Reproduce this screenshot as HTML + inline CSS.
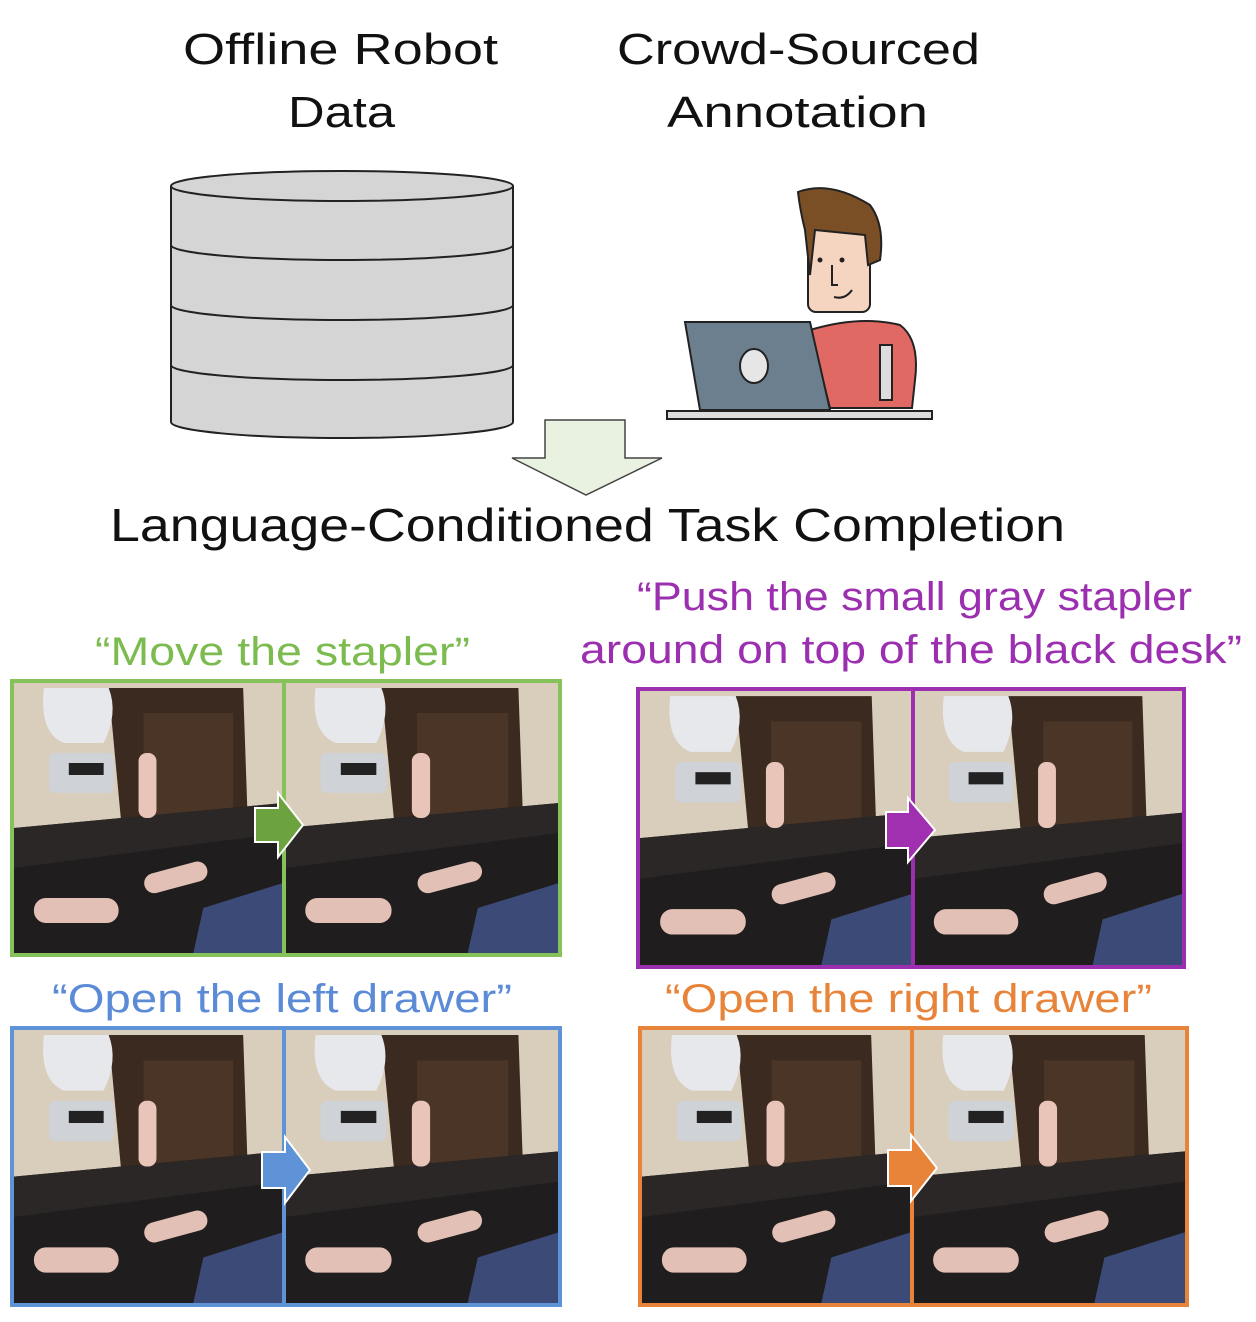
<!DOCTYPE html>
<html><head><meta charset="utf-8"><style>
html,body{margin:0;padding:0;background:#fff;width:1256px;height:1322px;overflow:hidden}
text{font-family:"Liberation Sans",sans-serif}
</style></head><body>
<svg width="1256" height="1322" viewBox="0 0 1256 1322" xmlns="http://www.w3.org/2000/svg">
<defs>
<symbol id="ph" viewBox="0 0 270 270" preserveAspectRatio="none">
<rect width="270" height="270" fill="#d9cdbb"/>
<polygon points="95,5 230,5 235,150 110,165" fill="#3b2a1f"/>
<rect x="130" y="30" width="90" height="110" fill="#4a3526"/>
<polygon points="0,145 270,120 270,270 0,270" fill="#1f1d1d"/>
<polygon points="0,145 270,120 270,150 0,185" fill="#2a2726"/>
<rect x="20" y="215" width="85" height="25" rx="12" fill="#e3c0b5"/>
<rect x="130" y="185" width="65" height="20" rx="10" fill="#e3c0b5" transform="rotate(-15 160 195)"/>
<rect x="125" y="70" width="18" height="65" rx="8" fill="#e8c5b8"/>
<polygon points="190,225 270,200 270,270 180,270" fill="#3c4a78"/>
<path d="M30,5 Q25,50 50,60 L90,60 Q105,30 95,5 Z" fill="#e6e8ec"/>
<rect x="35" y="70" width="65" height="40" rx="6" fill="#cfd3d8"/>
<rect x="55" y="80" width="35" height="12" fill="#222"/>
</symbol>
</defs>
<g lengthAdjust="spacingAndGlyphs">
<text x="183" y="64" font-size="44" textLength="315" lengthAdjust="spacingAndGlyphs" fill="#111">Offline Robot</text>
<text x="288" y="127" font-size="44" textLength="107" lengthAdjust="spacingAndGlyphs" fill="#111">Data</text>
<text x="617" y="64" font-size="44" textLength="363" lengthAdjust="spacingAndGlyphs" fill="#111">Crowd-Sourced</text>
<text x="667" y="127" font-size="44" textLength="261" lengthAdjust="spacingAndGlyphs" fill="#111">Annotation</text>
</g>
<!-- cylinder -->
<g stroke="#222" stroke-width="2" fill="#d5d5d5">
<path d="M171,186 L171,422 A171,16 0 0 0 513,422 L513,186"/>
<ellipse cx="342" cy="186" rx="171" ry="15"/>
<path d="M171,245 A171,15 0 0 0 513,245" fill="none"/>
<path d="M171,305 A171,15 0 0 0 513,305" fill="none"/>
<path d="M171,365 A171,15 0 0 0 513,365" fill="none"/>
</g>
<!-- person -->
<g stroke="#222" stroke-width="2">
<path d="M810,330 Q860,315 900,325 Q920,340 915,380 L912,408 L830,408 Z" fill="#e06a63"/>
<rect x="880" y="345" width="12" height="55" fill="#ddd"/>
<rect x="808" y="230" width="62" height="82" rx="8" fill="#f5d5c0"/>
<path d="M798,192 Q830,180 870,205 Q885,225 880,260 L868,265 L865,235 L815,230 L810,275 L805,230 Q800,210 798,192 Z" fill="#7b4f26"/>
<path d="M685,322 L810,322 L830,410 L700,410 Z" fill="#6b7f8e"/>
<ellipse cx="754" cy="366" rx="14" ry="17" fill="#e6e6e6"/>
<rect x="667" y="411" width="265" height="8" fill="#ddd"/>
</g>
<circle cx="820" cy="260" r="2.5" fill="#222"/><circle cx="842" cy="260" r="2.5" fill="#222"/>
<path d="M832,265 L832,285 L838,285 M834,297 Q845,300 852,290" stroke="#222" stroke-width="2" fill="none"/>
<!-- down arrow -->
<polygon points="545,420 625,420 625,458 662,458 586,495 512,458 545,458" fill="#e9f1e0" stroke="#444" stroke-width="1.5"/>
<text x="110" y="541" font-size="46" textLength="955" lengthAdjust="spacingAndGlyphs" fill="#111">Language-Conditioned Task Completion</text>
<!-- captions -->
<text x="95" y="665" font-size="40" textLength="375" lengthAdjust="spacingAndGlyphs" fill="#7cbb4f">“Move the stapler”</text>
<text x="637" y="610" font-size="40" textLength="555" lengthAdjust="spacingAndGlyphs" fill="#9b2fb0">“Push the small gray stapler</text>
<text x="580" y="663" font-size="40" textLength="662" lengthAdjust="spacingAndGlyphs" fill="#9b2fb0">around on top of the black desk”</text>
<text x="52" y="1012" font-size="40" textLength="460" lengthAdjust="spacingAndGlyphs" fill="#5b8ad6">“Open the left drawer”</text>
<text x="665" y="1012" font-size="40" textLength="487" lengthAdjust="spacingAndGlyphs" fill="#e8843a">“Open the right drawer”</text>
<!-- panels -->
<use href="#ph" x="14" y="683" width="269" height="270"/>
<use href="#ph" x="285" y="683" width="274" height="270"/>
<rect x="12" y="681" width="548" height="274" fill="none" stroke="#86c25a" stroke-width="4"/>
<line x1="284" y1="681" x2="284" y2="955" stroke="#86c25a" stroke-width="4"/>
<polygon points="255,808 278,808 278,793 303,825 278,857 278,842 255,842" fill="#6da33e" stroke="#fff" stroke-width="2"/>

<use href="#ph" x="640" y="691" width="272" height="274"/>
<use href="#ph" x="914" y="691" width="268" height="274"/>
<rect x="638" y="689" width="546" height="278" fill="none" stroke="#9b2fb0" stroke-width="4"/>
<line x1="913" y1="689" x2="913" y2="967" stroke="#9b2fb0" stroke-width="4"/>
<polygon points="886,812 908,812 908,798 935,830 908,862 908,848 886,848" fill="#a030b0" stroke="#fff" stroke-width="2"/>

<use href="#ph" x="14" y="1030" width="269" height="273"/>
<use href="#ph" x="285" y="1030" width="274" height="273"/>
<rect x="12" y="1028" width="548" height="277" fill="none" stroke="#5f93d8" stroke-width="4"/>
<line x1="284" y1="1028" x2="284" y2="1305" stroke="#5f93d8" stroke-width="4"/>
<polygon points="262,1152 285,1152 285,1137 310,1170 285,1203 285,1188 262,1188" fill="#5f93d8" stroke="#fff" stroke-width="2"/>

<use href="#ph" x="642" y="1030" width="269" height="273"/>
<use href="#ph" x="913" y="1030" width="272" height="273"/>
<rect x="640" y="1028" width="547" height="277" fill="none" stroke="#e8843a" stroke-width="4"/>
<line x1="912" y1="1028" x2="912" y2="1305" stroke="#e8843a" stroke-width="4"/>
<polygon points="888,1150 911,1150 911,1135 937,1168 911,1201 911,1186 888,1186" fill="#e8843a" stroke="#fff" stroke-width="2"/>
</svg>
</body></html>
